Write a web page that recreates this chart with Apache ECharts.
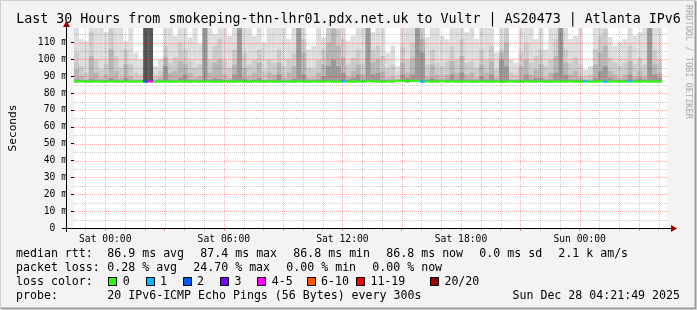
<!DOCTYPE html>
<html><head><meta charset="utf-8">
<script src="https://cdn.jsdelivr.net/npm/echarts@6/dist/echarts.min.js"></script>
<style>html,body{margin:0;padding:0;background:#f3f3f3}#c{width:697px;height:310px}</style>
</head><body><div id="c"></div>
<script>
// ---------------- data ----------------
const TITLE = 'Last 30 Hours from smokeping-thn-lhr01.pdx.net.uk to Vultr | AS20473 | Atlanta IPv6';
const Y_NAME = 'Seconds';
const X_START = -1.58;          // hours relative to Sat 00:00 (left edge of plot)
const X_SPAN = 30;              // hours shown
const STEP_H = 0.25;            // hours per smoke column
const Y_MAX = 118.6;            // ms at top of plot
const xLabelHours = [0, 6, 12, 18, 24];
const xLabelTexts = ['Sat 00:00', 'Sat 06:00', 'Sat 12:00', 'Sat 18:00', 'Sun 00:00'];
const majorHours = [0, 3, 6, 9, 12, 15, 18, 21, 24, 27];
const minorHours = [-1, 1, 2, 4, 5, 7, 8, 10, 11, 13, 14, 16, 17, 19, 20, 22, 23, 25, 26, 28];
const yLabelMs = [0, 10, 20, 30, 40, 50, 60, 70, 80, 90, 100, 110];
const majorMs = [10, 20, 30, 40, 50, 60, 70, 80, 90, 100, 110];
const minorMs = [5, 15, 25, 35, 45, 55, 65, 75, 85, 95, 105, 115];

// smoke layer tops (ms), one value per 15-minute column
const smokeLight = [
  125,112,111,125,125,125,116,125,125,125, 111,125,104,100,125,125,96,100,125,125,
  114,125,125,113,125,109,125,125,115,125, 125,114,125,125,125,125,114,125,110,125,
  125,125,125,112,125,125,125,106,108,125, 113,125,125,125,125,111,114,125,125,125,
  116,125,125,104,108,96,125,125,125,125, 125,113,125,125,114,112,125,125,125,116,
  125,112,125,125,125,104,125,125,100,98, 125,125,125,112,125,106,125,125,125,125,
  112,114,125,94,96,125,125,125,113,108, 110,112,125,114,116,125,125,125,125,null];
const smokeMid = [
  104,96,92,116,100,94,98,118,102,95, 106,97,92,91,100,100,90,93,108,98,
  101,110,106,99,95,97,112,100,108,112, 99,95,106,112,104,97,100,106,93,100,
  98,106,96,100,104,112,112,95,94,100, 106,120,125,118,112,97,101,106,98,112,
  106,108,102,95,97,91,108,100,110,112, 125,97,106,98,96,99,108,100,112,98,
  99,95,106,100,108,94,106,125,92,91, 104,110,98,102,106,96,100,112,112,106,
  98,101,97,90,91,106,114,118,101,98, 96,98,108,97,101,97,112,106,100,null];
const smokeMid2 = [
  94,90,88,102,92,89,91,106,93,89, 97,90,88,88,95,95,88,89,101,92,
  93,99,97,92,89,90,125,92,98,100, 91,89,97,125,95,90,92,98,88,92,
  91,98,89,92,96,125,104,89,89,92, 97,110,118,108,101,90,93,97,91,125,
  98,100,93,89,90,88,98,92,101,125, 112,90,97,91,89,91,99,92,102,91,
  92,89,97,92,99,89,104,110,88,88, 96,100,91,94,97,89,92,102,125,98,
  91,93,90,88,88,97,104,108,93,91, 89,91,99,90,93,90,125,97,92,null];
const smokeDark = [
  88,87.6,87.5,88.5,87.8,87.5,87.5,89,88,87.6, 89,87.5,87.5,87.5,90,90,87.4,87.6,96,88,
  87.6,89,91,88,87.6,87.5,125,88,89,88.5, 87.6,87.6,91,125,88.5,87.6,88,89,87.5,87.6,
  88,91,87.6,87.6,88.5,125,91,87.6,87.6,88, 90,96,100,96,92,88,89,91,88,125,
  91,92,88,87.6,87.6,87.4,91,89,91,125, 104,88,89,88,87.6,88,91,88,92,88,
  88,87.6,90,88,91,87.6,100,96,87.5,87.5, 88,91,88,89,89,87.6,88,92,125,91,
  88,88,88,87.4,87.4,89,93,96,89,88, 87.6,88,91,88,89,88,125,91,89,null];
const smokeDarkest = [
  0,0,0,0,0,0,0,0,0,0, 0,0,0,0,125,125,0,0,0,0,
  0,0,0,0,0,0,0,0,0,0, 0,0,0,0,0,0,0,0,0,0,
  0,0,0,0,0,0,0,0,0,0, 0,0,0,0,0,0,0,0,0,0,
  0,0,0,0,0,0,0,0,0,0, 0,0,0,0,0,0,0,0,0,0,
  0,0,0,0,0,0,0,0,0,0, 0,0,0,0,0,0,0,0,0,0,
  0,0,0,0,0,0,0,0,0,0, 0,0,0,0,0,0,0,0,0,0];
const medianRtt = [
  86.8,86.9,86.8,86.8,86.9,86.8,86.8,86.9,86.8,86.8, 86.9,86.8,86.8,86.9,86.8,86.9,86.8,86.8,86.9,86.8,
  86.8,86.9,86.8,86.8,86.9,86.8,86.8,86.9,86.8,86.8, 86.9,86.8,86.8,86.9,86.8,86.8,86.9,86.8,86.8,86.9,
  86.8,86.8,86.9,86.8,86.8,86.9,86.8,86.8,86.9,86.8, 86.8,86.9,86.8,86.8,86.9,86.8,86.8,86.9,86.8,87.3,
  86.9,86.8,86.8,86.9,86.8,87.4,87.2,86.8,87.3,87.3, 86.8,86.9,86.8,86.8,87.3,86.8,86.9,86.8,86.8,86.9,
  86.8,86.8,86.9,86.8,86.8,86.9,86.6,86.8,86.9,86.8, 86.8,86.9,86.8,86.8,86.9,86.8,86.8,86.9,86.8,86.8,
  86.9,86.8,86.8,86.9,86.8,86.8,86.9,86.8,86.8,86.9, 86.8,86.8,86.9,86.8,86.8,86.9,86.8,86.8,86.8,null];
const lossPings = [
  0,0,0,0,0,0,0,0,0,0, 0,0,0,0,2,4,0,0,0,0,
  0,0,0,0,0,0,0,0,0,0, 0,0,0,0,0,0,0,0,0,0,
  0,0,0,0,0,0,0,0,0,0, 0,0,0,0,1,0,0,0,0,0,
  0,0,0,0,0,0,0,0,0,0, 1,0,0,0,0,0,0,0,0,0,
  0,0,0,0,0,0,0,0,0,0, 0,0,0,0,0,0,0,0,0,0,
  0,0,0,1,0,0,0,1,0,0, 0,0,1,0,0,0,0,0,0,0];
const lossLabels = ['0', '1', '2', '3', '4-5', '6-10', '11-19', '20/20'];
const lossUpper = [0, 1, 2, 3, 5, 10, 19, 20];
const lossColors = ['#26ff00', '#00b8ff', '#0059ff', '#7e00ff', '#ff00ff', '#ff5500', '#ff0000', '#a10000'];
const legendRttItems = ['median rtt:', '86.9 ms avg', '87.4 ms max', '86.8 ms min', '86.8 ms now', '0.0 ms sd', '2.1 k am/s'];
const legendLossItems = ['packet loss:', '0.28 % avg', '24.70 % max', '0.00 % min', '0.00 % now'];
const legendProbe = ['probe:', '20 IPv6-ICMP Echo Pings (56 Bytes) every 300s'];
const DATE_TEXT = 'Sun Dec 28 04:21:49 2025';
const WATERMARK = 'RRDTOOL / TOBI OETIKER';

// ---------------- layout / style ----------------
const MONO = '"DejaVu Sans Mono", monospace';
const rttX = [16, 107.3, 200.3, 293.3, 386.3, 479.3, 558.3];
const lossX = [16, 107.3, 193.3, 286.3, 372.3];
const boxX = [108.3, 145.7, 182.7, 220, 257.3, 306.7, 356, 430];
const rowY = [253.7, 267.9, 282.1, 296.3];
const MAJOR_COLOR = 'rgba(255,0,0,0.32)';
const MINOR_COLOR = 'rgba(0,0,0,0.2)';

function colStart(i) { return X_START + i * STEP_H; }
function layerData(tops) {
  const out = [];
  tops.forEach((t, i) => {
    if (t == null || medianRtt[i] == null) return;
    const base = medianRtt[i] - 0.3;
    if (t > base) out.push([colStart(i), colStart(i) + STEP_H, base, t]);
  });
  return out;
}
function rectRender(params, api) {
  const p0 = api.coord([api.value(0), api.value(3)]);
  const p1 = api.coord([api.value(1), api.value(2)]);
  const cs = params.coordSys;
  const shape = echarts.graphic.clipRectByRect(
    { x: p0[0], y: p0[1], width: p1[0] - p0[0], height: p1[1] - p0[1] },
    { x: cs.x, y: cs.y, width: cs.width, height: cs.height });
  return shape && { type: 'rect', shape: shape, style: { fill: api.visual('color') } };
}
function bucket(n) { for (let k = 0; k < lossUpper.length; k++) if (n <= lossUpper[k]) return k; return lossUpper.length - 1; }
const medianData = [];
medianRtt.forEach((m, i) => { if (m != null) medianData.push([colStart(i), colStart(i) + STEP_H, m, bucket(lossPings[i])]); });

function smokeSeries(tops, color, z) {
  return { type: 'custom', renderItem: rectRender, data: layerData(tops), itemStyle: { color: color },
           encode: { x: [0, 1], y: [2, 3] }, z: z, silent: true, animation: false };
}

// grid lines: [value, vertical?, major?]
const gridData = [];
minorMs.forEach(v => gridData.push([v, 0, 0]));
majorMs.forEach(v => gridData.push([v, 0, 1]));
minorHours.forEach(v => gridData.push([v, 1, 0]));
majorHours.forEach(v => gridData.push([v, 1, 1]));
function gridRender(params, api) {
  const cs = params.coordSys;
  const v = api.value(0), vert = api.value(1), major = api.value(2);
  let shape;
  if (vert) {
    const x = Math.round(api.coord([v, 0])[0]) + 0.5;
    shape = { x1: x, y1: cs.y, x2: x, y2: cs.y + cs.height };
  } else {
    const y = Math.round(api.coord([X_START, v])[1]) + 0.5;
    shape = { x1: cs.x, y1: y, x2: cs.x + cs.width, y2: y };
  }
  return { type: 'line', shape: shape,
           style: { stroke: major ? MAJOR_COLOR : MINOR_COLOR, lineWidth: 1, lineDash: [1, 1] } };
}

const graphics = [];
function txt(s, x, y, size, extra) {
  graphics.push({ type: 'text', x: x, y: y, silent: true,
    style: Object.assign({ text: s, font: size + 'px ' + MONO, fill: '#000', verticalAlign: 'middle', align: 'left' }, extra || {}) });
}
legendRttItems.forEach((s, k) => txt(s, rttX[k], rowY[0], 11.6));
legendLossItems.forEach((s, k) => txt(s, lossX[k], rowY[1], 11.6));
txt('loss color:', 16, rowY[2], 11.6);
lossLabels.forEach((s, k) => {
  graphics.push({ type: 'rect', silent: true, shape: { x: Math.round(boxX[k]) + 0.5, y: 277.5, width: 8, height: 8 },
    style: { fill: lossColors[k], stroke: '#000', lineWidth: 1 } });
  txt(s, boxX[k] + 14.4, rowY[2], 11.6);
});
txt(legendProbe[0], 16, rowY[3], 11.6);
txt(legendProbe[1], 107.3, rowY[3], 11.6);
txt(DATE_TEXT, 680, rowY[3], 11.6, { align: 'right' });
txt(TITLE, 348.5, 19.4, 13.3, { align: 'center' });
graphics.push({ type: 'text', x: 688, y: 5, rotation: -Math.PI / 2, silent: true,
  style: { text: WATERMARK, font: '8.6px ' + MONO, fill: '#a9a9a9', align: 'left', verticalAlign: 'middle' } });
// axis lines and arrows (rrdtool style)
graphics.push({ type: 'line', silent: true, shape: { x1: 62, y1: 228.5, x2: 672, y2: 228.5 }, style: { stroke: '#000', lineWidth: 1 }, z: 10 });
graphics.push({ type: 'line', silent: true, shape: { x1: 66.5, y1: 232, x2: 66.5, y2: 24 }, style: { stroke: '#000', lineWidth: 1 }, z: 10 });
graphics.push({ type: 'polygon', silent: true, shape: { points: [[671, 225], [677, 228.5], [671, 232]] }, style: { fill: '#a00000' }, z: 10 });
graphics.push({ type: 'polygon', silent: true, shape: { points: [[63, 27], [66.5, 20.5], [70, 27]] }, style: { fill: '#a00000' }, z: 10 });
// frame
graphics.push({ type: 'polyline', silent: true, shape: { points: [[0.5, 309], [0.5, 0.5], [696, 0.5]] }, style: { stroke: '#cfcfcf', lineWidth: 1, fill: null } });
graphics.push({ type: 'polyline', silent: true, shape: { points: [[1, 308.5], [695.5, 308.5], [695.5, 1]] }, style: { stroke: '#9c9c9c', lineWidth: 2, fill: null } });

const chart = echarts.init(document.getElementById('c'), null, { renderer: 'canvas' });
chart.setOption({
  animation: false,
  backgroundColor: '#f3f3f3',
  grid: { left: 67, top: 28, width: 600, height: 200, show: true, backgroundColor: '#ffffff', borderWidth: 0 },
  xAxis: [{
    type: 'value', min: X_START, max: X_START + X_SPAN,
    axisLine: { show: false, onZero: false }, splitLine: { show: false },
    axisTick: { show: true, customValues: majorHours, length: 3, lineStyle: { color: 'rgba(255,0,0,0.45)' } },
    axisLabel: { customValues: xLabelHours, margin: 6, color: '#000', fontFamily: MONO, fontSize: 9.7,
      formatter: v => xLabelTexts[xLabelHours.indexOf(Math.round(v))] || '' }
  }, {
    type: 'value', min: X_START, max: X_START + X_SPAN, position: 'bottom',
    axisLine: { show: false, onZero: false }, splitLine: { show: false }, axisLabel: { show: false },
    axisTick: { show: true, customValues: minorHours, length: 3, lineStyle: { color: '#c0c0c0' } }
  }],
  yAxis: {
    type: 'value', min: 0, max: Y_MAX,
    name: Y_NAME, nameLocation: 'middle', nameGap: 55, nameRotate: 90,
    nameTextStyle: { fontFamily: MONO, fontSize: 11.2, color: '#000' },
    axisLine: { show: false, onZero: false }, splitLine: { show: false },
    axisTick: { show: true, customValues: yLabelMs, length: 3, lineStyle: { color: '#000' } },
    axisLabel: { customValues: yLabelMs, margin: 7, color: '#000', fontFamily: MONO, fontSize: 9.7,
      formatter: v => (v === 0 ? '0  ' : v + ' m') }
  },
  series: [
    smokeSeries(smokeLight, '#dddddd', 1),
    smokeSeries(smokeMid, '#cbcbcb', 1),
    smokeSeries(smokeMid2, '#b6b6b6', 1),
    smokeSeries(smokeDark, '#9a9a9a', 1),
    smokeSeries(smokeDarkest, '#585858', 1),
    { type: 'custom', data: gridData, z: 2, silent: true, renderItem: gridRender, encode: { x: 0, y: 1 } },
    { type: 'custom', data: medianData, z: 3, silent: true, encode: { x: [0, 1], y: 2 },
      renderItem: function (params, api) {
        const a = api.coord([api.value(0), api.value(2)]);
        const b = api.coord([api.value(1), api.value(2)]);
        return { type: 'rect', shape: { x: a[0], y: a[1] - 1, width: b[0] - a[0], height: 2 },
                 style: { fill: lossColors[api.value(3)] } };
      } }
  ],
  graphic: graphics
});
</script></body></html>
